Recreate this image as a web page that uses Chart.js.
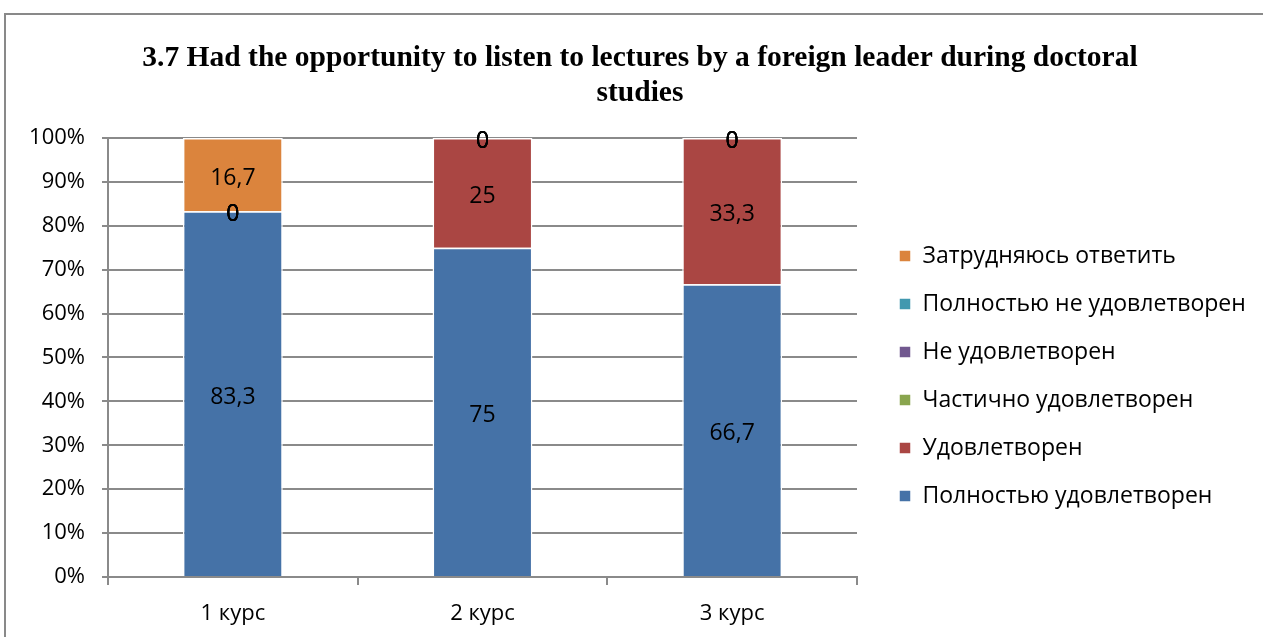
<!DOCTYPE html>
<html>
<head>
<meta charset="utf-8">
<script src="https://cdn.jsdelivr.net/npm/chart.js@4.4.1/dist/chart.umd.min.js"></script>
<style>
    html, body { margin: 0; padding: 0; background: #fff; overflow: hidden; }
    #frame { position: absolute; left: 4px; top: 13px; width: 1300px; height: 700px;
             border-top: 2px solid #898989; border-left: 2px solid #898989; }
    #grafico { position: absolute; left: 0; top: 0; }
</style>
</head>
<body>
<div id="frame"><canvas id="grafico" width="1268" height="622" style="width:1268px;height:622px"></canvas></div>
<script>
// Datos
const cursos = ['1 курс', '2 курс', '3 курс'];
const series = ['Полностью удовлетворен', 'Удовлетворен', 'Частично удовлетворен',
                'Не удовлетворен', 'Полностью не удовлетворен', 'Затрудняюсь ответить'];
const polnostyuUdovl = [83.3, 75, 66.7];
const udovl = [0, 25, 33.3];
const chastichno = [0, 0, 0];
const neUdovl = [0, 0, 0];
const polnostyuNe = [0, 0, 0];
const zatrudnyayus = [16.7, 0, 0];
const yTicks = [0, 10, 20, 30, 40, 50, 60, 70, 80, 90, 100];

const colores = ['#4572A7', '#AA4643', '#89A54E', '#71588F', '#4198AF', '#DB843D'];
const valores = [polnostyuUdovl, udovl, chastichno, neUdovl, polnostyuNe, zatrudnyayus];
const gris = '#8a8a8a';
const fuente = "'Open Sans', 'Noto Sans', sans-serif";

// Ancho de la leyenda (para dejar el título centrado y el área del gráfico fija)
const medir = document.createElement('canvas').getContext('2d');
medir.font = '23px ' + fuente;
const textoMax = Math.max(...series.map(s => medir.measureText(s).width));
const anchoLeyenda = 25 + 12 + 11.5 + textoMax + 10;
const margen = Math.max(0, 400 - anchoLeyenda);

// Etiquetas de valores dentro de cada segmento (incluye ceros)
const etiquetas = {
    id: 'etiquetas',
    afterDatasetsDraw(chart) {
        const ctx = chart.ctx;
        ctx.save();
        ctx.font = '23px ' + fuente;
        ctx.fillStyle = '#000';
        ctx.textAlign = 'center';
        ctx.textBaseline = 'middle';
        chart.data.datasets.forEach((ds, i) => {
            const meta = chart.getDatasetMeta(i);
            meta.data.forEach((bar, j) => {
                const texto = String(ds.data[j]).replace('.', ',');
                ctx.fillText(texto, bar.x, (bar.y + bar.base) / 2 + 3.5);
            });
        });
        ctx.restore();
    }
};

new Chart(document.getElementById('grafico'), {
    type: 'bar',
    data: {
        labels: cursos,
        datasets: series.map((s, i) => ({
            label: s,
            data: valores[i],
            backgroundColor: colores[i],
            borderColor: '#ffffff',
            borderWidth: 1.5,
            barPercentage: 0.4,
            categoryPercentage: 1.0
        }))
    },
    options: {
        responsive: false,
        animation: false,
        layout: { padding: { left: margen, top: 0, right: margen, bottom: 9.6 } },
        plugins: {
            title: {
                display: true,
                text: ['3.7 Had the opportunity to listen to lectures by a foreign leader during doctoral', 'studies'],
                color: '#000',
                font: { family: "'Liberation Serif', 'Times New Roman', serif", size: 29.5, weight: 'bold', lineHeight: 1.186 },
                padding: { top: 25.5, bottom: 27.5 }
            },
            legend: {
                position: 'right',
                align: 'start',
                fullSize: false,
                reverse: true,
                maxWidth: 1000,
                title: { display: true, text: ' ', font: { size: 10, lineHeight: 1 }, padding: { top: 35, bottom: 36.5 } },
                labels: {
                    boxWidth: 12,
                    boxHeight: 12,
                    padding: 25,
                    color: '#000',
                    font: { family: fuente, size: 23 }
                }
            },
            tooltip: { enabled: false }
        },
        scales: {
            x: {
                stacked: true,
                afterFit(scale) { scale.height = 50.4; },
                grid: { display: true, drawOnChartArea: false, drawTicks: true, tickLength: 8, color: gris, lineWidth: 2 },
                border: { display: true, color: gris, width: 2 },
                ticks: { color: '#000', padding: 16, font: { family: fuente, size: 22 } }
            },
            y: {
                stacked: true,
                min: 0,
                max: 100,
                afterBuildTicks(scale) { scale.ticks = yTicks.map(v => ({ value: v })); },
                afterFit(scale) { scale.width = 102 - margen; },
                grid: { color: gris, lineWidth: 2, tickLength: 6 },
                border: { display: true, color: gris, width: 2 },
                ticks: { color: '#000', padding: 17, font: { family: fuente, size: 22 }, callback: v => v + '%' }
            },
            espacio: {
                type: 'linear',
                position: 'right',
                display: true,
                grid: { display: false },
                border: { display: false },
                ticks: { display: false },
                afterFit(scale) { scale.width = 17; }
            }
        }
    },
    plugins: [etiquetas]
});
</script>
</body>
</html>
